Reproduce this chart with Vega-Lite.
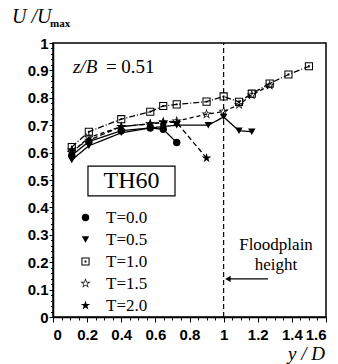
{
  "$schema": "https://vega.github.io/schema/vega-lite/v6.json",
  "width": 273,
  "height": 274,
  "autosize": {"type": "none"},
  "padding": {"left": 53, "top": 43, "right": 12, "bottom": 47},
  "background": "white",
  "config": {
    "view": {"stroke": "black", "strokeWidth": 1.5},
    "axis": {"domainColor": "black", "domainWidth": 1.5, "tickColor": "black", "labelColor": "black", "labelFont": "Liberation Sans", "labelFontWeight": "bold", "labelFontSize": 15, "grid": false, "title": null},
    "legend": {"orient": "none", "legendX": 24, "legendY": 166, "title": null, "labelFont": "Liberation Serif", "labelFontSize": 17, "labelColor": "black", "symbolFillColor": "black", "symbolStrokeWidth": 0, "symbolSize": 55, "rowPadding": 4, "labelOffset": 12, "padding": 0}
  },
  "datasets": {
    "obs": [
      {"T": "T=0.0", "yD": 0.11, "U": 0.59},
      {"T": "T=0.0", "yD": 0.21, "U": 0.64},
      {"T": "T=0.0", "yD": 0.40, "U": 0.68},
      {"T": "T=0.0", "yD": 0.57, "U": 0.69},
      {"T": "T=0.0", "yD": 0.646, "U": 0.685},
      {"T": "T=0.0", "yD": 0.725, "U": 0.637},
      {"T": "T=0.5", "yD": 0.11, "U": 0.573},
      {"T": "T=0.5", "yD": 0.21, "U": 0.625},
      {"T": "T=0.5", "yD": 0.40, "U": 0.672},
      {"T": "T=0.5", "yD": 0.57, "U": 0.69},
      {"T": "T=0.5", "yD": 0.646, "U": 0.695},
      {"T": "T=0.5", "yD": 0.725, "U": 0.70},
      {"T": "T=0.5", "yD": 0.91, "U": 0.70},
      {"T": "T=0.5", "yD": 1.0, "U": 0.73},
      {"T": "T=0.5", "yD": 1.09, "U": 0.68},
      {"T": "T=0.5", "yD": 1.165, "U": 0.676},
      {"T": "T=1.0", "yD": 0.11, "U": 0.62},
      {"T": "T=1.0", "yD": 0.21, "U": 0.676},
      {"T": "T=1.0", "yD": 0.40, "U": 0.722},
      {"T": "T=1.0", "yD": 0.57, "U": 0.749},
      {"T": "T=1.0", "yD": 0.646, "U": 0.77},
      {"T": "T=1.0", "yD": 0.725, "U": 0.776},
      {"T": "T=1.0", "yD": 0.90, "U": 0.786},
      {"T": "T=1.0", "yD": 1.0, "U": 0.805},
      {"T": "T=1.0", "yD": 1.09, "U": 0.785},
      {"T": "T=1.0", "yD": 1.165, "U": 0.815},
      {"T": "T=1.0", "yD": 1.27, "U": 0.852},
      {"T": "T=1.0", "yD": 1.38, "U": 0.885},
      {"T": "T=1.0", "yD": 1.50, "U": 0.915},
      {"T": "T=1.5", "yD": 0.11, "U": 0.60},
      {"T": "T=1.5", "yD": 0.21, "U": 0.655},
      {"T": "T=1.5", "yD": 0.40, "U": 0.695},
      {"T": "T=1.5", "yD": 0.57, "U": 0.705},
      {"T": "T=1.5", "yD": 0.646, "U": 0.712},
      {"T": "T=1.5", "yD": 0.725, "U": 0.715},
      {"T": "T=1.5", "yD": 0.90, "U": 0.74},
      {"T": "T=1.5", "yD": 1.0, "U": 0.75},
      {"T": "T=1.5", "yD": 1.09, "U": 0.775},
      {"T": "T=1.5", "yD": 1.165, "U": 0.81},
      {"T": "T=1.5", "yD": 1.27, "U": 0.845},
      {"T": "T=2.0", "yD": 0.11, "U": 0.61},
      {"T": "T=2.0", "yD": 0.21, "U": 0.645},
      {"T": "T=2.0", "yD": 0.40, "U": 0.695},
      {"T": "T=2.0", "yD": 0.57, "U": 0.705},
      {"T": "T=2.0", "yD": 0.646, "U": 0.71},
      {"T": "T=2.0", "yD": 0.725, "U": 0.71},
      {"T": "T=2.0", "yD": 0.90, "U": 0.58}
    ]
  },
  "layer": [
    {
      "data": {"values": [{}]},
      "mark": {"type": "rule", "stroke": "black", "strokeWidth": 1.2, "strokeDash": [5, 3]},
      "encoding": {
        "x": {"datum": 1, "type": "quantitative", "scale": {"domain": [0, 1.6], "nice": false}, "axis": null},
        "y": {"datum": 0, "type": "quantitative", "scale": {"domain": [0, 1], "nice": false}, "axis": null},
        "y2": {"datum": 1}
      }
    },
    {
      "data": {"name": "obs"},
      "mark": {"type": "line", "stroke": "black", "strokeWidth": 1.3},
      "encoding": {
        "x": {"field": "yD", "type": "quantitative", "scale": {"domain": [0, 1.6], "nice": false},
              "axis": {"orient": "bottom", "values": [0, 0.2, 0.4, 0.6, 0.8, 1, 1.2, 1.4, 1.6], "format": ".1~f", "tickSize": 5, "labelPadding": 5}},
        "y": {"field": "U", "type": "quantitative", "scale": {"domain": [0, 1], "nice": false},
              "axis": {"orient": "left", "values": [0, 0.1, 0.2, 0.3, 0.4, 0.5, 0.6, 0.7, 0.8, 0.9, 1], "format": ".1~f", "tickSize": 4, "labelPadding": 1}},
        "strokeDash": {"field": "T", "type": "nominal", "legend": null,
                       "scale": {"domain": ["T=2.0", "T=1.5", "T=1.0", "T=0.5", "T=0.0"], "range": [[5, 3], [4, 3], [6, 2, 1, 2], [1, 0], [1, 0]]}}
      }
    },
    {
      "data": {"name": "obs"},
      "mark": {"type": "point", "filled": true, "color": "black", "strokeWidth": 0, "size": 55, "opacity": 1},
      "encoding": {
        "x": {"field": "yD", "type": "quantitative",
              "axis": {"orient": "bottom", "values": [0.05, 0.1, 0.15, 0.25, 0.3, 0.35, 0.45, 0.5, 0.55, 0.65, 0.7, 0.75, 0.85, 0.9, 0.95, 1.05, 1.1, 1.15, 1.25, 1.3, 1.35, 1.45, 1.5, 1.55], "labels": false, "domain": false, "tickSize": 3}},
        "y": {"field": "U", "type": "quantitative",
              "axis": {"orient": "left", "values": [0.02, 0.04, 0.06, 0.08, 0.12, 0.14, 0.16, 0.18, 0.22, 0.24, 0.26, 0.28, 0.32, 0.34, 0.36, 0.38, 0.42, 0.44, 0.46, 0.48, 0.52, 0.54, 0.56, 0.58, 0.62, 0.64, 0.66, 0.68, 0.72, 0.74, 0.76, 0.78, 0.82, 0.84, 0.86, 0.88, 0.92, 0.94, 0.96, 0.98], "labels": false, "domain": false, "tickSize": 2.5}},
        "shape": {"field": "T", "type": "nominal",
                  "scale": {"domain": ["T=0.0", "T=0.5", "T=1.0", "T=1.5", "T=2.0"],
                            "range": ["circle", "triangle-down",
                                      "M-1.1,-1.1H1.1V1.1H-1.1Z M-0.82,-0.82V0.82H0.82V-0.82Z M-0.25,-0.25H0.25V0.25H-0.25Z",
                                      "M0,-1.45L0.326,-0.448L1.379,-0.448L0.527,0.171L0.852,1.173L0,0.554L-0.852,1.173L-0.527,0.171L-1.379,-0.448L-0.326,-0.448Z M0,-0.87L-0.196,-0.269L-0.827,-0.269L-0.316,0.103L-0.511,0.704L0,0.332L0.511,0.704L0.316,0.103L0.827,-0.269L0.196,-0.269Z",
                                      "M0,-1.35L0.303,-0.417L1.284,-0.417L0.49,0.159L0.794,1.092L0,0.516L-0.794,1.092L-0.49,0.159L-1.284,-0.417L-0.303,-0.417Z"]},
                  "legend": {"orient": "none", "legendX": 24, "legendY": 166}}
      }
    },
    {
      "data": {"values": [{}]},
      "mark": {"type": "rect", "fill": "white", "stroke": "black", "strokeWidth": 1.2},
      "encoding": {
        "x": {"datum": 0.205, "type": "quantitative", "axis": null},
        "x2": {"datum": 0.715},
        "y": {"datum": 0.442, "type": "quantitative", "axis": null},
        "y2": {"datum": 0.551}
      }
    },
    {
      "data": {"values": [{}]},
      "mark": {"type": "text", "text": "TH60", "font": "Liberation Serif", "fontSize": 24, "color": "black", "align": "center", "baseline": "middle"},
      "encoding": {"x": {"datum": 0.46, "type": "quantitative", "axis": null}, "y": {"datum": 0.497, "type": "quantitative", "axis": null}}
    },
    {
      "data": {"values": [{}]},
      "mark": {"type": "text", "text": "z/B", "font": "Liberation Serif", "fontStyle": "italic", "fontSize": 19, "color": "black", "align": "left", "baseline": "middle"},
      "encoding": {"x": {"datum": 0.117, "type": "quantitative", "axis": null}, "y": {"datum": 0.913, "type": "quantitative", "axis": null}}
    },
    {
      "data": {"values": [{}]},
      "mark": {"type": "text", "text": "= 0.51", "font": "Liberation Serif", "fontSize": 19, "color": "black", "align": "left", "baseline": "middle"},
      "encoding": {"x": {"datum": 0.31, "type": "quantitative", "axis": null}, "y": {"datum": 0.913, "type": "quantitative", "axis": null}}
    },
    {
      "data": {"values": [{}]},
      "mark": {"type": "text", "text": ["Floodplain", "height"], "font": "Liberation Serif", "fontSize": 17, "lineHeight": 20, "color": "black", "align": "center", "baseline": "middle"},
      "encoding": {"x": {"datum": 1.307, "type": "quantitative", "axis": null}, "y": {"datum": 0.263, "type": "quantitative", "axis": null}}
    },
    {
      "data": {"values": [{}]},
      "mark": {"type": "rule", "stroke": "black", "strokeWidth": 1.2},
      "encoding": {"x": {"datum": 1.02, "type": "quantitative", "axis": null}, "x2": {"datum": 1.26}, "y": {"datum": 0.139, "type": "quantitative", "axis": null}}
    },
    {
      "data": {"values": [{}]},
      "mark": {"type": "point", "shape": "triangle-left", "filled": true, "color": "black", "size": 40, "opacity": 1},
      "encoding": {"x": {"datum": 1.025, "type": "quantitative", "axis": null}, "y": {"datum": 0.139, "type": "quantitative", "axis": null}}
    },
    {
      "data": {"values": [{}]},
      "mark": {"type": "text", "text": "U /U", "font": "Liberation Serif", "fontStyle": "italic", "fontSize": 20, "color": "black", "align": "left", "baseline": "middle"},
      "encoding": {"x": {"datum": -0.24, "type": "quantitative", "axis": null}, "y": {"datum": 1.095, "type": "quantitative", "axis": null}}
    },
    {
      "data": {"values": [{}]},
      "mark": {"type": "text", "text": "max", "font": "Liberation Serif", "fontSize": 11, "fontWeight": "bold", "color": "black", "align": "left", "baseline": "middle"},
      "encoding": {"x": {"datum": -0.017, "type": "quantitative", "axis": null}, "y": {"datum": 1.069, "type": "quantitative", "axis": null}}
    },
    {
      "data": {"values": [{}]},
      "mark": {"type": "text", "text": "y / D", "font": "Liberation Serif", "fontStyle": "italic", "fontSize": 19, "color": "black", "align": "left", "baseline": "middle"},
      "encoding": {"x": {"datum": 1.377, "type": "quantitative", "axis": null}, "y": {"datum": -0.135, "type": "quantitative", "axis": null}}
    }
  ],
  "resolve": {"axis": {"x": "independent", "y": "independent"}}
}
